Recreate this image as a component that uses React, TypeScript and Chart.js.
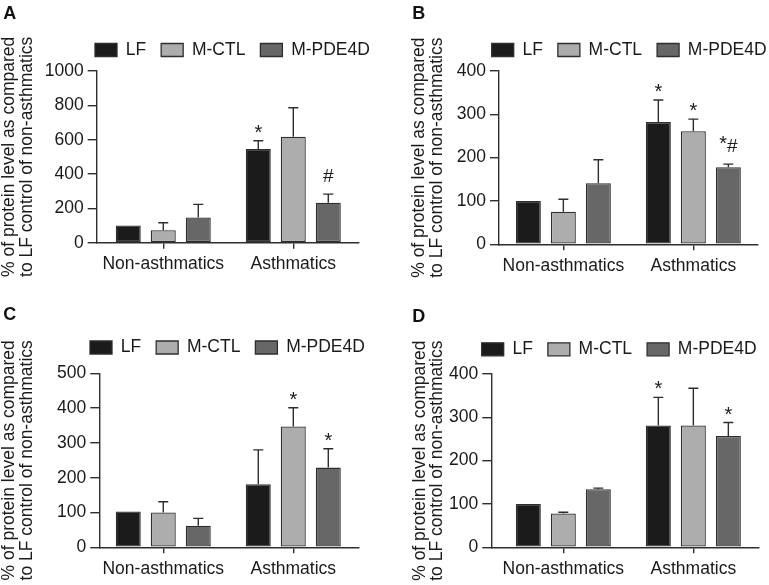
import React, { useEffect, useRef } from 'react';
import { Chart, registerables } from 'chart.js';

Chart.register(...registerables);

const FONT = "'Liberation Sans', Arial, Helvetica, sans-serif";
const INK = '#1a1a1a';
const AXIS = '#2e2e2e';
Chart.defaults.font.family = FONT;

// ---------- shared labels ----------
const groups = ['Non-asthmatics', 'Asthmatics'];
const seriesNames = ['LF', 'M-CTL', 'M-PDE4D'];
const seriesColors = ['#1b1b1b', '#adadad', '#676767'];
const yTitle = ['% of protein level as compared', 'to LF control of non-asthmatics'];

// ---------- panel A ----------
const aLF = [100, 546];
const aLFErr = [0, 48];
const aMCTL = [73, 617];
const aMCTLErr = [43, 169];
const aPDE = [147, 233];
const aPDEErr = [76, 50];
const aMarksLF = ['', '*'];
const aMarksMCTL = ['', ''];
const aMarksPDE = ['', '#'];
const aTicks = [0, 200, 400, 600, 800, 1000];

// ---------- panel B ----------
const bLF = [100, 282];
const bLFErr = [0, 51];
const bMCTL = [75, 261];
const bMCTLErr = [29, 28];
const bPDE = [141, 178];
const bPDEErr = [54, 7];
const bMarksLF = ['', '*'];
const bMarksMCTL = ['', '*'];
const bMarksPDE = ['', '*#'];
const bTicks = [0, 100, 200, 300, 400];

// ---------- panel C ----------
const cLF = [103, 181];
const cLFErr = [0, 99];
const cMCTL = [100, 347];
const cMCTLErr = [31, 54];
const cPDE = [62, 229];
const cPDEErr = [21, 54];
const cMarksLF = ['', ''];
const cMarksMCTL = ['', '*'];
const cMarksPDE = ['', '*'];
const cTicks = [0, 100, 200, 300, 400, 500];

// ---------- panel D ----------
const dLF = [100, 281];
const dLFErr = [0, 65];
const dMCTL = [78, 281];
const dMCTLErr = [3, 86];
const dPDE = [134, 257];
const dPDEErr = [2.5, 31];
const dMarksLF = ['', '*'];
const dMarksMCTL = ['', ''];
const dMarksPDE = ['', '*'];
const dTicks = [0, 100, 200, 300, 400];

type Panel = {
  letter: string;
  values: number[][];
  errors: number[][];
  marks: string[][];
  yTicks: number[];
  box: { left: number; top: number; w: number; h: number };
  plot: { l: number; r: number; t: number; b: number };
  xRange: [number, number];
  legendAt: [number, number];
  titlePad: number;
  letterAt: [number, number];
};

const panels: Panel[] = [
  {
    letter: 'A',
    values: [aLF, aMCTL, aPDE],
    errors: [aLFErr, aMCTLErr, aPDEErr],
    marks: [aMarksLF, aMarksMCTL, aMarksPDE],
    yTicks: aTicks,
    box: { left: 0, top: 0, w: 384, h: 290 },
    plot: { l: 96.7, r: 358.3, t: 71, b: 242.7 },
    xRange: [0.488, 2.5],
    legendAt: [95, 50],
    titlePad: 0.85,
    letterAt: [3.3, 14.5],
  },
  {
    letter: 'B',
    values: [bLF, bMCTL, bPDE],
    errors: [bLFErr, bMCTLErr, bPDEErr],
    marks: [bMarksLF, bMarksMCTL, bMarksPDE],
    yTicks: bTicks,
    box: { left: 384, top: 0, w: 385, h: 290 },
    plot: { l: 115, r: 373.3, t: 71, b: 244.3 },
    xRange: [0.505, 2.492],
    legendAt: [107.7, 50],
    titlePad: 26.85,
    letterAt: [28.3, 14.5],
  },
  {
    letter: 'C',
    values: [cLF, cMCTL, cPDE],
    errors: [cLFErr, cMCTLErr, cPDEErr],
    marks: [cMarksLF, cMarksMCTL, cMarksPDE],
    yTicks: cTicks,
    box: { left: 0, top: 290, w: 384, h: 295 },
    plot: { l: 99.3, r: 358.3, t: 83.3, b: 257.3 },
    xRange: [0.508, 2.5],
    legendAt: [90, 57.5],
    titlePad: 0.85,
    letterAt: [3.3, 25],
  },
  {
    letter: 'D',
    values: [dLF, dMCTL, dPDE],
    errors: [dLFErr, dMCTLErr, dPDEErr],
    marks: [dMarksLF, dMarksMCTL, dMarksPDE],
    yTicks: dTicks,
    box: { left: 384, top: 290, w: 385, h: 295 },
    plot: { l: 107.3, r: 375, t: 84, b: 257.3 },
    xRange: [0.446, 2.505],
    legendAt: [97.7, 59.3],
    titlePad: 27.25,
    letterAt: [28.3, 26.7],
  },
];

const LEGEND_PAD = 15;
const LEGEND_FONT = 17.5;

function drawMark(ctx: CanvasRenderingContext2D, mark: string, cx: number, top: number) {
  const hasHash = mark.includes('#');
  const parts = mark.split('').map((c) => {
    const size = c === '*' ? 20 : 19;
    ctx.font = `${size}px ${FONT}`;
    const w = ctx.measureText(c).width;
    const off = c === '*' ? (hasHash ? 14 : 2) : 12;
    return { c, size, w, off };
  });
  const total = parts.reduce((s, p) => s + p.w, 0);
  let x = cx - total / 2;
  for (const p of parts) {
    ctx.font = `${p.size}px ${FONT}`;
    ctx.fillText(p.c, x, top - p.off);
    x += p.w;
  }
}

function PanelChart({ p }: { p: Panel }) {
  const ref = useRef<HTMLCanvasElement>(null);

  useEffect(() => {
    const canvas = ref.current;
    if (!canvas) return;

    const extras = {
      id: 'panelExtras' + p.letter,
      afterLayout(chart: any) {
        const lg = chart.legend;
        if (!lg) return;
        const dx = p.legendAt[0] - (lg.left + LEGEND_PAD);
        const dy = p.legendAt[1] - (lg.top + LEGEND_PAD + LEGEND_FONT / 2);
        lg.left += dx;
        lg.right += dx;
        lg.top += dy;
        lg.bottom += dy;
      },
      afterDatasetsDraw(chart: any) {
        const ctx = chart.ctx as CanvasRenderingContext2D;
        const yScale = chart.scales.y;
        ctx.save();
        ctx.strokeStyle = AXIS;
        ctx.lineWidth = 1.4;
        ctx.fillStyle = INK;
        ctx.textAlign = 'left';
        ctx.textBaseline = 'alphabetic';
        chart.data.datasets.forEach((_ds: any, di: number) => {
          const meta = chart.getDatasetMeta(di);
          meta.data.forEach((bar: any, j: number) => {
            const v = p.values[di][j];
            const e = p.errors[di][j];
            let top = yScale.getPixelForValue(v);
            if (e > 0) {
              top = yScale.getPixelForValue(v + e);
              ctx.beginPath();
              ctx.moveTo(bar.x, bar.y);
              ctx.lineTo(bar.x, top);
              ctx.moveTo(bar.x - 5, top);
              ctx.lineTo(bar.x + 5, top);
              ctx.stroke();
            }
            const m = p.marks[di][j];
            if (m) drawMark(ctx, m, bar.x, top);
          });
        });
        ctx.restore();
      },
      afterDraw(chart: any) {
        const ctx = chart.ctx as CanvasRenderingContext2D;
        ctx.save();
        ctx.fillStyle = '#111';
        ctx.font = `bold 18px ${FONT}`;
        ctx.textAlign = 'left';
        ctx.textBaseline = 'middle';
        ctx.fillText(p.letter, p.letterAt[0], p.letterAt[1]);
        ctx.restore();
      },
    };

    const datasets = seriesNames.map((name, i) => ({
      label: name,
      data: groups.map((_, j) => ({ x: j + 1, y: p.values[i][j] })),
      backgroundColor: seriesColors[i],
      borderColor: AXIS,
      borderWidth: 1.3,
      borderSkipped: false,
      barPercentage: 0.714,
      categoryPercentage: 0.8077,
    }));

    const yMin = p.yTicks[0];
    const yMax = p.yTicks[p.yTicks.length - 1];
    const yStep = p.yTicks[1] - p.yTicks[0];

    const chart = new Chart(canvas, {
      type: 'bar',
      data: { datasets } as any,
      plugins: [extras],
      options: {
        responsive: false,
        animation: false,
        events: [],
        layout: { padding: { left: 0, top: 0, bottom: 0, right: p.box.w - p.plot.r } },
        plugins: {
          tooltip: { enabled: false },
          title: { display: false },
          legend: {
            display: true,
            position: 'top',
            align: 'start',
            labels: {
              boxWidth: 22,
              boxHeight: 13,
              padding: LEGEND_PAD,
              color: INK,
              font: { size: LEGEND_FONT },
            },
          },
        },
        scales: {
          x: {
            type: 'linear',
            min: p.xRange[0],
            max: p.xRange[1],
            offset: false,
            grid: {
              offset: false,
              drawOnChartArea: false,
              drawTicks: true,
              tickLength: 6,
              color: AXIS,
              lineWidth: 1.4,
            },
            border: { display: true, color: AXIS, width: 1.4 },
            ticks: {
              color: INK,
              font: { size: 17.5, lineHeight: 1.2 },
              padding: 5,
              maxRotation: 0,
              autoSkip: false,
              callback: (v: any) => groups[Math.round(Number(v)) - 1] ?? '',
            },
            afterBuildTicks: (s: any) => {
              s.ticks = groups.map((_, j) => ({ value: j + 1 }));
            },
            afterFit: (s: any) => {
              s.height = p.box.h - p.plot.b;
              s.paddingLeft = 0;
              s.paddingRight = 0;
            },
          },
          y: {
            type: 'linear',
            min: yMin,
            max: yMax,
            grid: {
              drawOnChartArea: false,
              drawTicks: true,
              tickLength: 9,
              color: AXIS,
              lineWidth: 1.4,
            },
            border: { display: true, color: AXIS, width: 1.4 },
            ticks: {
              stepSize: yStep,
              color: INK,
              font: { size: 17.5 },
              padding: 4,
              callback: (v: any) => String(v),
            },
            title: {
              display: true,
              text: yTitle,
              color: INK,
              font: { size: 17.5, lineHeight: 1 },
              padding: { top: p.titlePad, bottom: 0 },
            },
            afterFit: (s: any) => {
              s.width = p.plot.l;
              s.paddingTop = p.plot.t;
              s.paddingBottom = 0;
            },
          },
        },
      } as any,
    });

    return () => chart.destroy();
  }, [p]);

  return (
    <canvas
      ref={ref}
      width={p.box.w}
      height={p.box.h}
      style={{ position: 'absolute', left: p.box.left, top: p.box.top, width: p.box.w, height: p.box.h }}
    />
  );
}

export default function App() {
  return (
    <div style={{ position: 'absolute', left: 0, top: 0, width: 769, height: 585, background: '#ffffff', overflow: 'hidden' }}>
      {panels.map((p) => (
        <PanelChart key={p.letter} p={p} />
      ))}
    </div>
  );
}
